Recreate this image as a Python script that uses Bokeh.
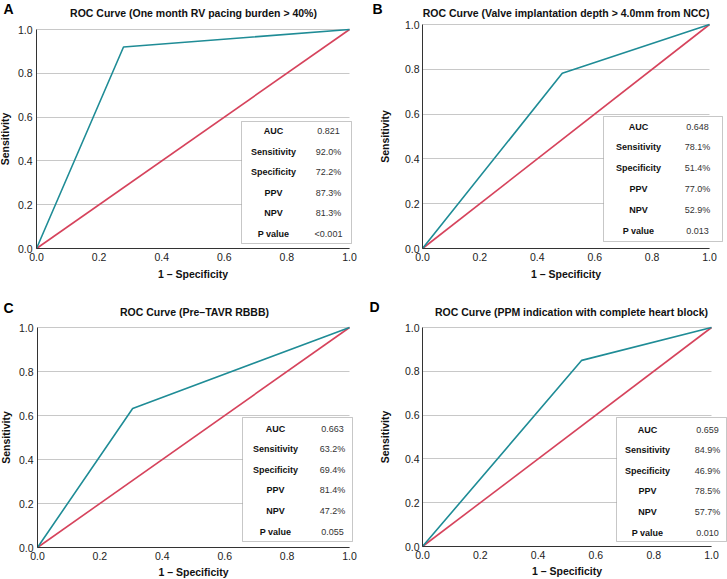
from bokeh.plotting import figure
from bokeh.models import (Label, LabelSet, ColumnDataSource, BoxAnnotation, FixedTicker,
                          Range1d, PrintfTickFormatter, Grid)
from bokeh.core.properties import value
from bokeh.layouts import column, row
from bokeh.embed import file_html
from bokeh.resources import INLINE

# ---------------- data ----------------
letters = ["A", "B", "C", "D"]
titles = [
    "ROC Curve (One month RV pacing burden > 40%)",
    "ROC Curve (Valve implantation depth  > 4.0mm from NCC)",
    "ROC Curve (Pre\u2013TAVR RBBB)",
    "ROC Curve (PPM indication with complete heart block)",
]
# ROC curve points: (0,0) -> cut-off point -> (1,1)
roc_fpr_A = [0.0, 0.278, 1.0]
roc_tpr_A = [0.0, 0.920, 1.0]
roc_fpr_B = [0.0, 0.487, 1.0]
roc_tpr_B = [0.0, 0.782, 1.0]
roc_fpr_C = [0.0, 0.305, 1.0]
roc_tpr_C = [0.0, 0.632, 1.0]
roc_fpr_D = [0.0, 0.551, 1.0]
roc_tpr_D = [0.0, 0.850, 1.0]
diag = [0.0, 1.0]

metric_names = ["AUC", "Sensitivity", "Specificity", "PPV", "NPV", "P value"]
table_A = ["0.821", "92.0%", "72.2%", "87.3%", "81.3%", "<0.001"]
table_B = ["0.648", "78.1%", "51.4%", "77.0%", "52.9%", "0.013"]
table_C = ["0.663", "63.2%", "69.4%", "81.4%", "47.2%", "0.055"]
table_D = ["0.659", "84.9%", "46.9%", "78.5%", "57.7%", "0.010"]

axis_ticks = [0.0, 0.2, 0.4, 0.6, 0.8, 1.0]
x_label = "1 \u2013 Specificity"
y_label = "Sensitivity"

# ---------------- styling / layout (pixel geometry of each panel) ----------------
FONT = "Liberation Sans"
TEAL = "#1f8c96"
RED = "#d6435c"

geom = [
    dict(W=364, H=290, px0=36, px1=349, py1=29, py0=248, yls=4, yms=4, xls=4,
         box=(241, 351, 121, 243), colx=(273, 328), row0=130.5, step=20.5,
         title=(193, 12.5), letter=(8, 8)),
    dict(W=363, H=290, px0=58, px1=345, py1=24, py0=248, yls=11, yms=3, xls=4,
         box=(239, 358, 116, 241), colx=(274, 333), row0=126, step=20.9,
         title=(203, 12.5), letter=(13, 8)),
    dict(W=364, H=289, px0=37, px1=349, py1=37, py0=257, yls=4, yms=4, xls=3,
         box=(242, 352, 127, 251), colx=(275, 332), row0=138, step=20.6,
         title=(194, 21), letter=(8, 17)),
    dict(W=363, H=289, px0=58, px1=347, py1=37, py0=256, yls=11, yms=3, xls=3,
         box=(252, 362, 127, 251), colx=(283, 343), row0=139, step=20.6,
         title=(207, 21), letter=(10, 16)),
]

curves = [(roc_fpr_A, roc_tpr_A), (roc_fpr_B, roc_tpr_B), (roc_fpr_C, roc_tpr_C), (roc_fpr_D, roc_tpr_D)]
tables = [table_A, table_B, table_C, table_D]


def make_panel(i):
    G = geom[i]
    W, H = G["W"], G["H"]
    fw = G["px1"] - G["px0"]
    fh = G["py0"] - G["py1"]

    def dx(px):
        return (px - G["px0"]) / fw

    def dy(py):
        return (G["py0"] - py) / fh

    x0, x1 = dx(0), dx(W)
    y0, y1 = dy(H), dy(0)

    p = figure(width=W, height=H, output_backend="svg", toolbar_location=None,
               title_location=None,
               x_range=Range1d(x0, x1), y_range=Range1d(y0, y1),
               min_border_left=0, min_border_right=0,
               min_border_top=0, min_border_bottom=0)
    p.outline_line_color = None
    p.background_fill_color = "white"
    p.border_fill_color = "white"
    p.xgrid.visible = False

    grid = p.ygrid[0]
    grid.ticker = FixedTicker(ticks=axis_ticks)
    grid.grid_line_color = "#c8c8c8"
    grid.grid_line_width = 1
    if "cross_bounds" in Grid.properties():
        grid.cross_bounds = (0, 1)
    else:
        grid.visible = False
        p.segment(x0=[0] * len(axis_ticks), y0=axis_ticks, x1=[1] * len(axis_ticks), y1=axis_ticks,
                  line_color="#c8c8c8", line_width=1)

    for ax in (p.xaxis[0], p.yaxis[0]):
        ax.ticker = FixedTicker(ticks=axis_ticks)
        ax.fixed_location = 0
        ax.bounds = (0, 1)
        ax.major_tick_out = 0
        ax.major_tick_in = 0
        ax.minor_tick_out = 0
        ax.minor_tick_in = 0
        ax.formatter = PrintfTickFormatter(format="%.1f")
        ax.major_label_text_font = FONT
        ax.major_label_text_font_size = "10.5px"
        ax.major_label_text_color = "#222222"
        ax.axis_label_text_font = FONT
        ax.axis_label_text_font_style = "bold"
        ax.axis_label_text_font_size = "10.5px"
        ax.axis_label_text_color = "#111111"
        ax.axis_line_color = "#333333"
        ax.axis_line_width = 1
        ax.major_label_standoff = 4
    p.xaxis[0].axis_label = x_label
    p.xaxis[0].axis_label_standoff = G["xls"]
    p.yaxis[0].axis_label = y_label
    p.yaxis[0].axis_label_standoff = G["yls"]
    p.yaxis[0].major_label_standoff = G["yms"]

    # reference diagonal and ROC curve
    p.line(diag, diag, line_color=RED, line_width=1.6)
    fx, fy = curves[i]
    p.line(fx, fy, line_color=TEAL, line_width=1.6)

    # table box
    bl, br, bt, bb = G["box"]
    p.add_layout(BoxAnnotation(left=dx(bl), right=dx(br), bottom=dy(bb), top=dy(bt),
                               fill_color="white", fill_alpha=1.0,
                               line_color="#444444", line_width=1, level="annotation"))
    n = len(metric_names)
    ys = [dy(G["row0"] + k * G["step"]) for k in range(n)]
    src = ColumnDataSource(dict(
        xl=[dx(G["colx"][0])] * n, xv=[dx(G["colx"][1])] * n,
        y=ys, name=metric_names, val=tables[i]))
    p.add_layout(LabelSet(x="xl", y="y", text="name", source=src,
                          text_align="center", text_baseline="middle",
                          text_font=value(FONT), text_font_style="bold",
                          text_font_size="9px", text_color="#111111"))
    p.add_layout(LabelSet(x="xv", y="y", text="val", source=src,
                          text_align="center", text_baseline="middle",
                          text_font=value(FONT), text_font_size="9px", text_color="#333333"))

    # title and panel letter
    tx, ty = G["title"]
    p.add_layout(Label(x=dx(tx), y=dy(ty), text=titles[i], text_align="center",
                       text_baseline="middle", text_font=FONT, text_font_style="bold",
                       text_font_size="10.5px", text_color="#111111"))
    lx, ly = G["letter"]
    p.add_layout(Label(x=dx(lx), y=dy(ly), text=letters[i], text_align="center",
                       text_baseline="middle", text_font=FONT, text_font_style="bold",
                       text_font_size="14px", text_color="#000000"))
    return p


panels = [make_panel(i) for i in range(4)]
layout = column(row(panels[0], panels[1]), row(panels[2], panels[3]))

open("out.html", "w").write(file_html(layout, INLINE))
